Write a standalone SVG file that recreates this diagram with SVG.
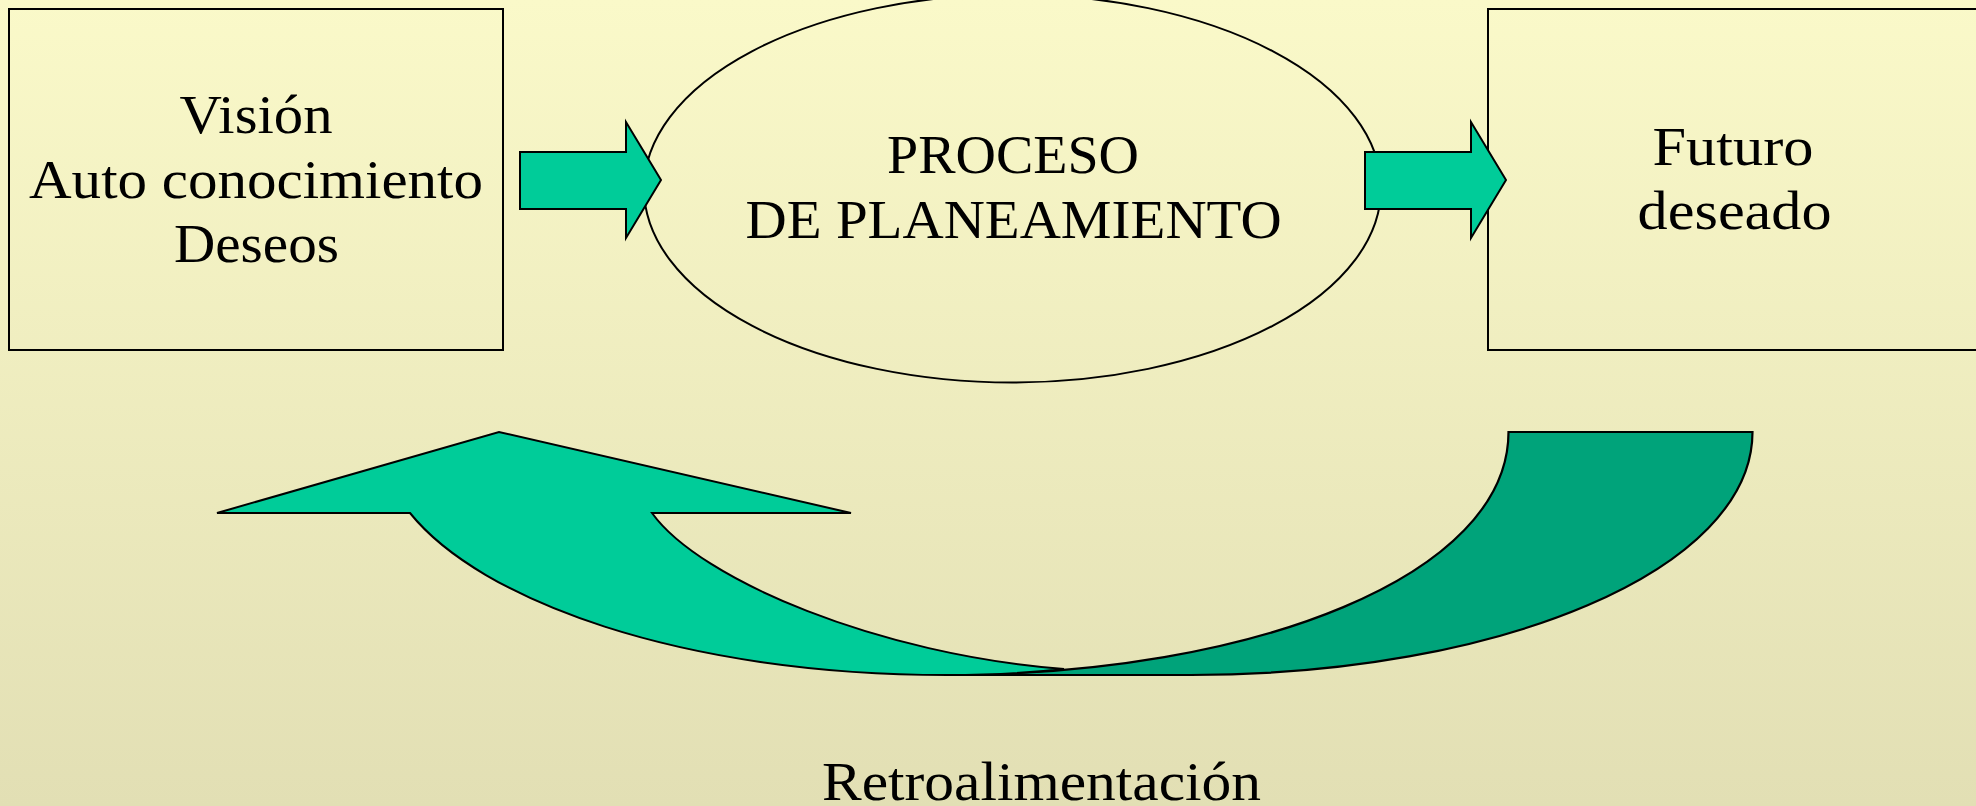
<svg xmlns="http://www.w3.org/2000/svg" width="1976" height="806" viewBox="0 0 1976 806">
<defs>
<linearGradient id="bg" x1="0" y1="0" x2="0" y2="1">
<stop offset="0" stop-color="#FAF9C9"/>
<stop offset="1" stop-color="#E2DFB4"/>
</linearGradient>
</defs>
<style>
.box{fill:none;stroke:#000;stroke-width:2}
.arr{fill:#00CC99;stroke:#000;stroke-width:2;stroke-linejoin:miter}
.dark{fill:#00A37A;stroke:#000;stroke-width:2.2}
.t{font-family:"Liberation Serif","Times New Roman",serif;font-size:55px;fill:#000;text-anchor:middle}
</style>
<rect x="0" y="0" width="1976" height="806" fill="url(#bg)"/>
<g id="node-vision">
<rect class="box" x="9" y="9" width="494" height="341"/>
<text class="t" x="256" y="133" textLength="153" lengthAdjust="spacingAndGlyphs">Visión</text>
<text class="t" x="256" y="198" textLength="454" lengthAdjust="spacingAndGlyphs">Auto conocimiento</text>
<text class="t" x="256.5" y="262" textLength="165" lengthAdjust="spacingAndGlyphs">Deseos</text>
</g>
<g id="node-proceso">
<ellipse class="box" cx="1012.5" cy="188.5" rx="368.5" ry="194"/>
<text class="t" x="1013" y="173" textLength="252" lengthAdjust="spacingAndGlyphs">PROCESO</text>
<text class="t" x="1013.6" y="238" textLength="536" lengthAdjust="spacingAndGlyphs">DE PLANEAMIENTO</text>
</g>
<g id="node-futuro">
<rect class="box" x="1488" y="9" width="520" height="341"/>
<text class="t" x="1733" y="165" textLength="161" lengthAdjust="spacingAndGlyphs">Futuro</text>
<text class="t" x="1734.6" y="229" textLength="194" lengthAdjust="spacingAndGlyphs">deseado</text>
</g>
<g id="connectors">
<polygon class="arr" points="520,152 626,152 626,122 661,180 626,238 626,209 520,209"/>
<polygon class="arr" points="1365,152 1471,152 1471,122 1506,180 1471,238 1471,209 1365,209"/>
<g id="feedback">
<path class="dark" d="M1508.5,432 L1752.5,432 C1752.5,570 1500,675 1191,675 L945,675 C1256,675 1508.5,575 1508.5,432 Z"/>
<path class="arr" d="M410,513 C480,600 680,675 947,675 Q1010,675 1064,669 C880,655 700,580 652,513 L851,513 L499,432 L217,513 Z"/>
</g>
</g>
<text class="t" x="1041.5" y="800" textLength="439" lengthAdjust="spacingAndGlyphs">Retroalimentación</text>
</svg>
